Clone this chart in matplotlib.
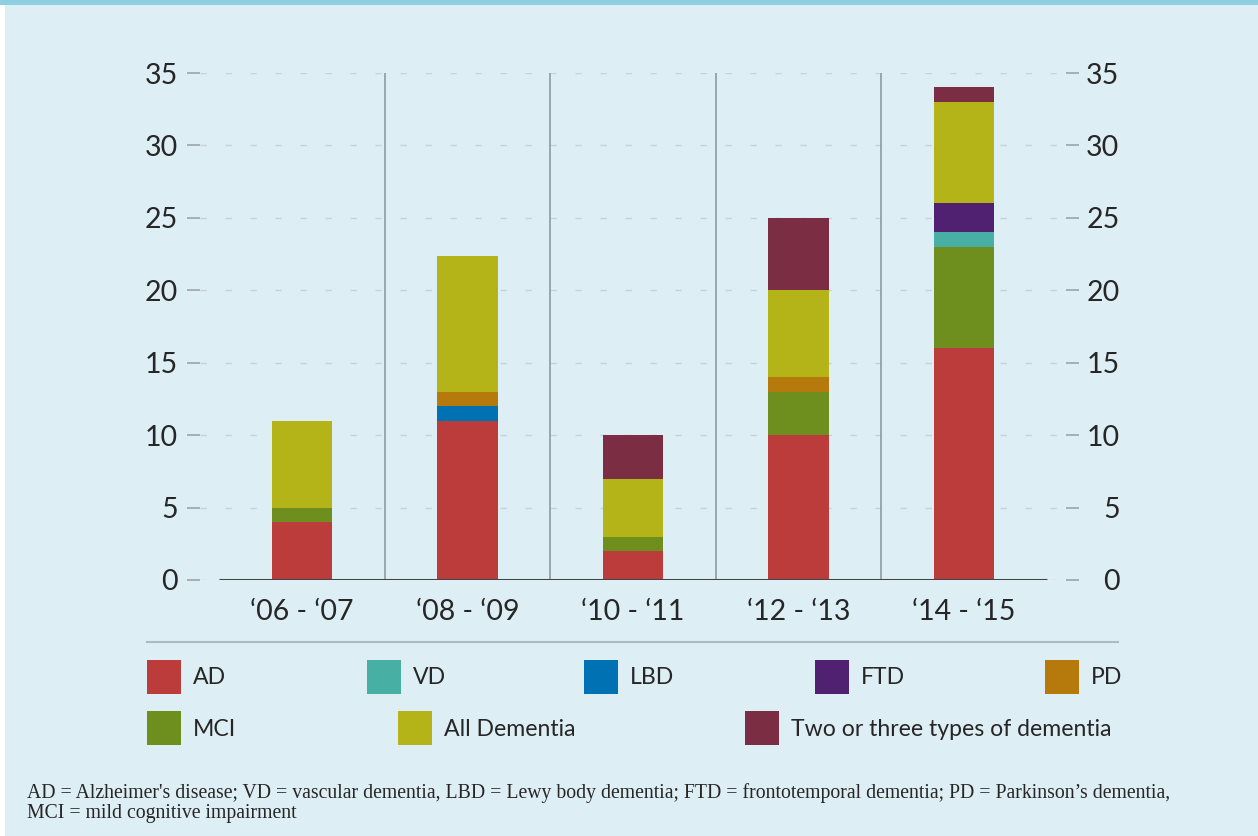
import matplotlib.pyplot as plt
from matplotlib.patches import Rectangle
import numpy as np

# data (number of studies per period)
periods = ['\u201806 - \u201807', '\u201808 - \u201809', '\u201810 - \u201811',
           '\u201812 - \u201813', '\u201814 - \u201815']
ad = [4, 11, 2, 10, 16]
mci = [1, 0, 1, 3, 7]
vd = [0, 0, 0, 0, 1]
lbd = [0, 1, 0, 0, 0]
ftd = [0, 0, 0, 0, 2]
pd_ = [0, 1, 0, 1, 0]
all_dem = [6, 9.4, 4, 6, 7]
two_three = [0, 0, 3, 5, 1]

series = [('AD', ad, '#bc3c3c'), ('MCI', mci, '#6e8f1e'), ('VD', vd, '#48afa5'),
          ('LBD', lbd, '#0071b3'), ('FTD', ftd, '#4f2170'), ('PD', pd_, '#b5790c'),
          ('All Dementia', all_dem, '#b4b418'),
          ('Two or three types of dementia', two_three, '#7a2d43')]
colors = {name: c for name, _, c in series}

BG = '#deeef5'
TXT = '#262626'
plt.rcParams['font.family'] = ['Lato', 'DejaVu Sans']

W, H = 1258, 836
fig = plt.figure(figsize=(W / 100, H / 100), dpi=100, facecolor=BG)

# frame decorations
fig.patches.append(Rectangle((0, 0), 5 / W, 1, transform=fig.transFigure,
                             facecolor='white', edgecolor='none'))
fig.patches.append(Rectangle((0, 1 - 5 / H), 1, 5 / H, transform=fig.transFigure,
                             facecolor='#8dd0e2', edgecolor='none'))

ax = fig.add_axes([200 / W, 256 / H, 866 / W, 507 / H])
ax.set_facecolor(BG)
x = np.arange(len(periods))

bottom = np.zeros(len(periods))
for name, vals, c in series:
    v = np.array(vals, dtype=float)
    ax.bar(x, v, 0.363, bottom=bottom, color=c, edgecolor='none', zorder=3)
    bottom += v

ax.set_xlim(-0.616, 4.616)
ax.set_ylim(0, 35)
ax.set_yticks(range(0, 36, 5))
ax.set_xticks(x)
ax.set_xticklabels(periods)

# grid, separators, baseline
ax.grid(axis='y', color='#c5d2d8', linewidth=1, linestyle=(0, (4.5, 13.5)), zorder=0)
ax.vlines(x[:-1] + 0.5, 0, 35, color='#8e9a9f', linewidth=1.2, zorder=2)
ax.hlines(0, -0.5, 4.5, color='#444444', linewidth=2.2, zorder=4)

for s in ax.spines.values():
    s.set_visible(False)

ax.tick_params(axis='x', length=0, pad=14, labelsize=20.5, labelcolor=TXT)
ax.tick_params(axis='y', length=9.5, width=1.2, color='#9aa5aa', pad=6.5,
               labelsize=20.5, labelcolor=TXT)

ax2 = ax.twinx()
ax2.set_ylim(0, 35)
ax2.set_yticks(range(0, 36, 5))
for s in ax2.spines.values():
    s.set_visible(False)
ax2.tick_params(axis='y', length=9.5, width=1.2, color='#9aa5aa', pad=29,
                labelsize=20.5, labelcolor=TXT)
for t in ax2.yaxis.get_major_ticks():
    t.label2.set_horizontalalignment('right')

# legend (manual layout)
fig.add_artist(plt.Line2D([147 / W, 1118 / W], [1 - 642 / H] * 2,
                          transform=fig.transFigure, color='#aebbc1', linewidth=1.5))
legend_items = [('AD', 147, 660), ('VD', 367, 660), ('LBD', 584, 660),
                ('FTD', 815, 660), ('PD', 1045, 660),
                ('MCI', 147, 711), ('All Dementia', 398, 711),
                ('Two or three types of dementia', 745, 711)]
for name, px, py in legend_items:
    fig.patches.append(Rectangle((px / W, 1 - (py + 34) / H), 34 / W, 34 / H,
                                 transform=fig.transFigure, facecolor=colors[name],
                                 edgecolor='none'))
    fig.text((px + 46) / W, 1 - (py + 18) / H, name, fontsize=16.6, color=TXT,
             va='center', ha='left')

# footnote
note = ("AD = Alzheimer's disease; VD = vascular dementia, LBD = Lewy body dementia; "
        "FTD = frontotemporal dementia; PD = Parkinson\u2019s dementia,\n"
        "MCI = mild cognitive impairment")
fig.text(27 / W, 1 - 783 / H, note, fontsize=14.2, color=TXT, va='top', ha='left',
         family=['Liberation Serif', 'DejaVu Serif'], linespacing=1.1)

fig.savefig('out.png', dpi=100, facecolor=BG)
